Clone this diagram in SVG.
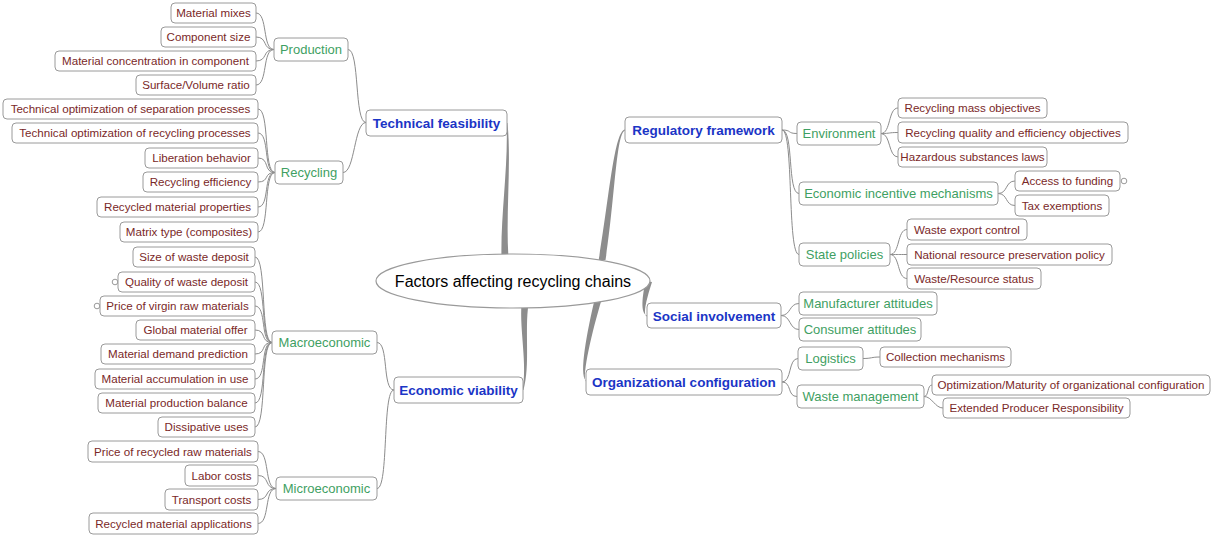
<svg xmlns="http://www.w3.org/2000/svg" width="1213" height="536" viewBox="0 0 1213 536">
<style>
.bg{fill:#fff}
rect{fill:#fff;stroke:#9a9a9a;stroke-width:1}
.leaf text{font-family:"Liberation Sans",Arial,sans-serif;font-size:11.6px;fill:#7a2828;text-anchor:middle}
.sub text{font-family:"Liberation Sans",Arial,sans-serif;font-size:13px;fill:#3f9f63;text-anchor:middle}
.main text{font-family:"Liberation Sans",Arial,sans-serif;font-size:13.5px;font-weight:bold;fill:#1b35c6;text-anchor:middle}
.root text{font-family:"Liberation Sans",Arial,sans-serif;font-size:16px;fill:#000;text-anchor:middle}
.root ellipse{fill:#fff;stroke:#9a9a9a;stroke-width:1.2}
.thin path{fill:none;stroke:#8c8c8c;stroke-width:1}
.thick path{fill:#8d8d8d;stroke:none}
.dot{fill:#fff;stroke:#9a9a9a;stroke-width:1}
</style>
<rect class="bg" x="0" y="0" width="1213" height="536" style="stroke:none"/>
<g id="connectors">
<g class="thick">
<path d="M506.5,123 C508.5,165 500.5,215 501.5,258 L508.5,258 C505.5,215 511.5,165 507.5,123 Z"/>
<path d="M625,129.5 C614,131 609,200 598.5,261 L605.5,260 C615,200 616,133 625,130.5 Z"/>
<path d="M647,315.5 C640,313 642.5,296 645.5,281 L652,282 C647.5,296 642,315 647,316.5 Z"/>
<path d="M586,380.5 C578.5,375 587.5,330 594.5,300 L601.5,300 C592.5,330 581.5,376 586,381.5 Z"/>
<path d="M522.5,390 C527.5,365 519.5,330 521.5,304 L528.5,304 C524.5,330 530.5,365 523.5,390 Z"/>
</g>
<g class="thin">
<path d="M366,122.5 C354,122.5 360,49.5 348,49.5"/>
<path d="M366,122.5 C354,122.5 355,172.5 343,172.5"/>
<path d="M394,390 C382,390 389,342.5 377,342.5"/>
<path d="M394,390 C382,390 389,488.5 377,488.5"/>
<path d="M274,49.5 C262,49.5 268,13 256,13"/>
<path d="M274,49.5 C262,49.5 268,37 256,37"/>
<path d="M274,49.5 C262,49.5 268,61 256,61"/>
<path d="M274,49.5 C262,49.5 268,85 256,85"/>
<path d="M275,172.5 C263,172.5 270,109 258,109"/>
<path d="M275,172.5 C263,172.5 270,133 258,133"/>
<path d="M275,172.5 C263,172.5 270,158 258,158"/>
<path d="M275,172.5 C263,172.5 270,182 258,182"/>
<path d="M275,172.5 C263,172.5 270,207 258,207"/>
<path d="M275,172.5 C263,172.5 270,232 258,232"/>
<path d="M272,342.5 C260,342.5 267,257 255,257"/>
<path d="M272,342.5 C260,342.5 267,282 255,282"/>
<path d="M272,342.5 C260,342.5 267,306 255,306"/>
<path d="M272,342.5 C260,342.5 267,330 255,330"/>
<path d="M272,342.5 C260,342.5 267,354 255,354"/>
<path d="M272,342.5 C260,342.5 267,379 255,379"/>
<path d="M272,342.5 C260,342.5 267,403 255,403"/>
<path d="M272,342.5 C260,342.5 267,427 255,427"/>
<path d="M276,488.5 C264,488.5 270,451.5 258,451.5"/>
<path d="M276,488.5 C264,488.5 270,475.5 258,475.5"/>
<path d="M276,488.5 C264,488.5 270,499.5 258,499.5"/>
<path d="M276,488.5 C264,488.5 270,523.5 258,523.5"/>
<path d="M782,130 C792,130 787,133.5 797,133.5"/>
<path d="M782,130 C794,130 787,193.5 799,193.5"/>
<path d="M782,130 C794,130 787,254.5 799,254.5"/>
<path d="M881,133.5 C891,133.5 888,108 898,108"/>
<path d="M881,133.5 C891,133.5 888,132.5 898,132.5"/>
<path d="M881,133.5 C891,133.5 888,157 898,157"/>
<path d="M998,193.5 C1008,193.5 1005,181 1015,181"/>
<path d="M998,193.5 C1008,193.5 1005,205.5 1015,205.5"/>
<path d="M890,254.5 C900,254.5 897,229.5 907,229.5"/>
<path d="M890,254.5 C900,254.5 897,254.5 907,254.5"/>
<path d="M890,254.5 C900,254.5 897,278.5 907,278.5"/>
<path d="M781,315.5 C791,315.5 789,303.5 799,303.5"/>
<path d="M781,315.5 C791,315.5 789,329.5 799,329.5"/>
<path d="M782,382 C792,382 788,358.5 798,358.5"/>
<path d="M782,382 C792,382 787,396.5 797,396.5"/>
<path d="M863,358.5 C872,358.5 871,357 880,357"/>
<path d="M924,396.5 C929,396.5 927,385 932,385"/>
<path d="M924,396.5 C932,396.5 935,408 943,408"/>
</g>
</g>
<g id="root" class="root">
<ellipse cx="513" cy="281" rx="137" ry="27"/>
<text x="513" y="286.5">Factors affecting recycling chains</text>
</g>
<g id="technical-feasibility" class="main"><rect x="366" y="110" width="141" height="26" rx="4"/><text x="436.5" y="127.5">Technical feasibility</text></g>
<g id="economic-viability" class="main"><rect x="394" y="377" width="129" height="26" rx="4"/><text x="458.5" y="395">Economic viability</text></g>
<g id="regulatory-framework" class="main"><rect x="625" y="117" width="157" height="26" rx="4"/><text x="703.5" y="135">Regulatory framework</text></g>
<g id="social-involvement" class="main"><rect x="647" y="303" width="134" height="25" rx="4"/><text x="714" y="320.5">Social involvement</text></g>
<g id="organizational-configuration" class="main"><rect x="586" y="369" width="196" height="26" rx="4"/><text x="684" y="387">Organizational configuration</text></g>
<g id="production" class="sub"><rect x="274" y="38" width="74" height="23" rx="4"/><text x="311" y="54">Production</text></g>
<g id="recycling" class="sub"><rect x="275" y="161" width="68" height="23" rx="4"/><text x="309" y="177">Recycling</text></g>
<g id="macroeconomic" class="sub"><rect x="272" y="331" width="105" height="23" rx="4"/><text x="324.5" y="347">Macroeconomic</text></g>
<g id="microeconomic" class="sub"><rect x="276" y="477" width="101" height="23" rx="4"/><text x="326.5" y="493">Microeconomic</text></g>
<g id="environment" class="sub"><rect x="797" y="122" width="84" height="23" rx="4"/><text x="839" y="138">Environment</text></g>
<g id="economic-incentive" class="sub"><rect x="799" y="182" width="199" height="23" rx="4"/><text x="898.5" y="198">Economic incentive mechanisms</text></g>
<g id="state-policies" class="sub"><rect x="799" y="243" width="91" height="23" rx="4"/><text x="844.5" y="259">State policies</text></g>
<g id="manufacturer-attitudes" class="sub"><rect x="799" y="292" width="138" height="23" rx="4"/><text x="868" y="308">Manufacturer attitudes</text></g>
<g id="consumer-attitudes" class="sub"><rect x="799" y="318" width="122" height="23" rx="4"/><text x="860" y="334">Consumer attitudes</text></g>
<g id="logistics" class="sub"><rect x="798" y="347" width="65" height="23" rx="4"/><text x="830.5" y="363">Logistics</text></g>
<g id="waste-management" class="sub"><rect x="797" y="385" width="127" height="23" rx="4"/><text x="860.5" y="401">Waste management</text></g>
<g id="material-mixes" class="leaf"><rect x="171" y="3" width="85" height="20" rx="4"/><text x="213.5" y="17.2">Material mixes</text></g>
<g id="component-size" class="leaf"><rect x="161" y="27" width="95" height="20" rx="4"/><text x="208.5" y="41.2">Component size</text></g>
<g id="material-concentration" class="leaf"><rect x="55" y="51" width="201" height="20" rx="4"/><text x="155.5" y="65.2">Material concentration in component</text></g>
<g id="surface-volume" class="leaf"><rect x="136" y="75" width="120" height="20" rx="4"/><text x="196" y="89.2">Surface/Volume ratio</text></g>
<g id="tech-opt-separation" class="leaf"><rect x="3" y="99" width="255" height="20" rx="4"/><text x="130.5" y="113.2">Technical optimization of separation processes</text></g>
<g id="tech-opt-recycling" class="leaf"><rect x="12" y="123" width="246" height="20" rx="4"/><text x="135" y="137.2">Technical optimization of recycling processes</text></g>
<g id="liberation-behavior" class="leaf"><rect x="145" y="148" width="113" height="20" rx="4"/><text x="201.5" y="162.2">Liberation behavior</text></g>
<g id="recycling-efficiency" class="leaf"><rect x="143" y="172" width="115" height="20" rx="4"/><text x="200.5" y="186.2">Recycling efficiency</text></g>
<g id="recycled-material-properties" class="leaf"><rect x="97" y="197" width="161" height="20" rx="4"/><text x="177.5" y="211.2">Recycled material properties</text></g>
<g id="matrix-type" class="leaf"><rect x="120" y="222" width="138" height="20" rx="4"/><text x="189" y="236.2">Matrix type (composites)</text></g>
<g id="size-waste-deposit" class="leaf"><rect x="133" y="247" width="122" height="20" rx="4"/><text x="194" y="261.2">Size of waste deposit</text></g>
<g id="quality-waste-deposit" class="leaf"><circle class="dot" cx="115" cy="282" r="2.8"/><rect x="118" y="272" width="137" height="20" rx="4"/><text x="186.5" y="286.2">Quality of waste deposit</text></g>
<g id="price-virgin" class="leaf"><circle class="dot" cx="97" cy="306" r="2.8"/><rect x="100" y="296" width="155" height="20" rx="4"/><text x="177.5" y="310.2">Price of virgin raw materials</text></g>
<g id="global-material-offer" class="leaf"><rect x="136" y="320" width="119" height="20" rx="4"/><text x="195.5" y="334.2">Global material offer</text></g>
<g id="material-demand" class="leaf"><rect x="101" y="344" width="154" height="20" rx="4"/><text x="178" y="358.2">Material demand prediction</text></g>
<g id="material-accumulation" class="leaf"><rect x="95" y="369" width="160" height="20" rx="4"/><text x="175" y="383.2">Material accumulation in use</text></g>
<g id="material-production-balance" class="leaf"><rect x="98" y="393" width="157" height="20" rx="4"/><text x="176.5" y="407.2">Material production balance</text></g>
<g id="dissipative-uses" class="leaf"><rect x="158" y="417" width="97" height="20" rx="4"/><text x="206.5" y="431.2">Dissipative uses</text></g>
<g id="price-recycled" class="leaf"><rect x="88" y="441" width="170" height="21" rx="4"/><text x="173" y="455.7">Price of recycled raw materials</text></g>
<g id="labor-costs" class="leaf"><rect x="185" y="465" width="73" height="21" rx="4"/><text x="221.5" y="479.7">Labor costs</text></g>
<g id="transport-costs" class="leaf"><rect x="165" y="489" width="93" height="21" rx="4"/><text x="211.5" y="503.7">Transport costs</text></g>
<g id="recycled-material-applications" class="leaf"><rect x="89" y="513" width="169" height="21" rx="4"/><text x="173.5" y="527.7">Recycled material applications</text></g>
<g id="recycling-mass-objectives" class="leaf"><rect x="898" y="98" width="149" height="20" rx="4"/><text x="972.5" y="112.2">Recycling mass objectives</text></g>
<g id="recycling-quality-objectives" class="leaf"><rect x="898" y="122" width="230" height="21" rx="4"/><text x="1013" y="136.7">Recycling quality and efficiency objectives</text></g>
<g id="hazardous-substances" class="leaf"><rect x="898" y="147" width="149" height="20" rx="4"/><text x="972.5" y="161.2">Hazardous substances laws</text></g>
<g id="access-funding" class="leaf"><rect x="1015" y="171" width="105" height="20" rx="4"/><circle class="dot" cx="1124" cy="181" r="2.8"/><text x="1067.5" y="185.2">Access to funding</text></g>
<g id="tax-exemptions" class="leaf"><rect x="1015" y="195" width="94" height="21" rx="4"/><text x="1062" y="209.7">Tax exemptions</text></g>
<g id="waste-export-control" class="leaf"><rect x="907" y="219" width="120" height="21" rx="4"/><text x="967" y="233.7">Waste export control</text></g>
<g id="national-resource-policy" class="leaf"><rect x="907" y="244" width="205" height="21" rx="4"/><text x="1009.5" y="258.7">National resource preservation policy</text></g>
<g id="waste-resource-status" class="leaf"><rect x="907" y="268" width="134" height="21" rx="4"/><text x="974" y="282.7">Waste/Resource status</text></g>
<g id="collection-mechanisms" class="leaf"><rect x="880" y="347" width="131" height="20" rx="4"/><text x="945.5" y="361.2">Collection mechanisms</text></g>
<g id="optimization-maturity" class="leaf"><rect x="932" y="375" width="278" height="20" rx="4"/><text x="1071" y="389.2">Optimization/Maturity of organizational configuration</text></g>
<g id="extended-producer" class="leaf"><rect x="943" y="398" width="187" height="20" rx="4"/><text x="1036.5" y="412.2">Extended Producer Responsibility</text></g>
</svg>
